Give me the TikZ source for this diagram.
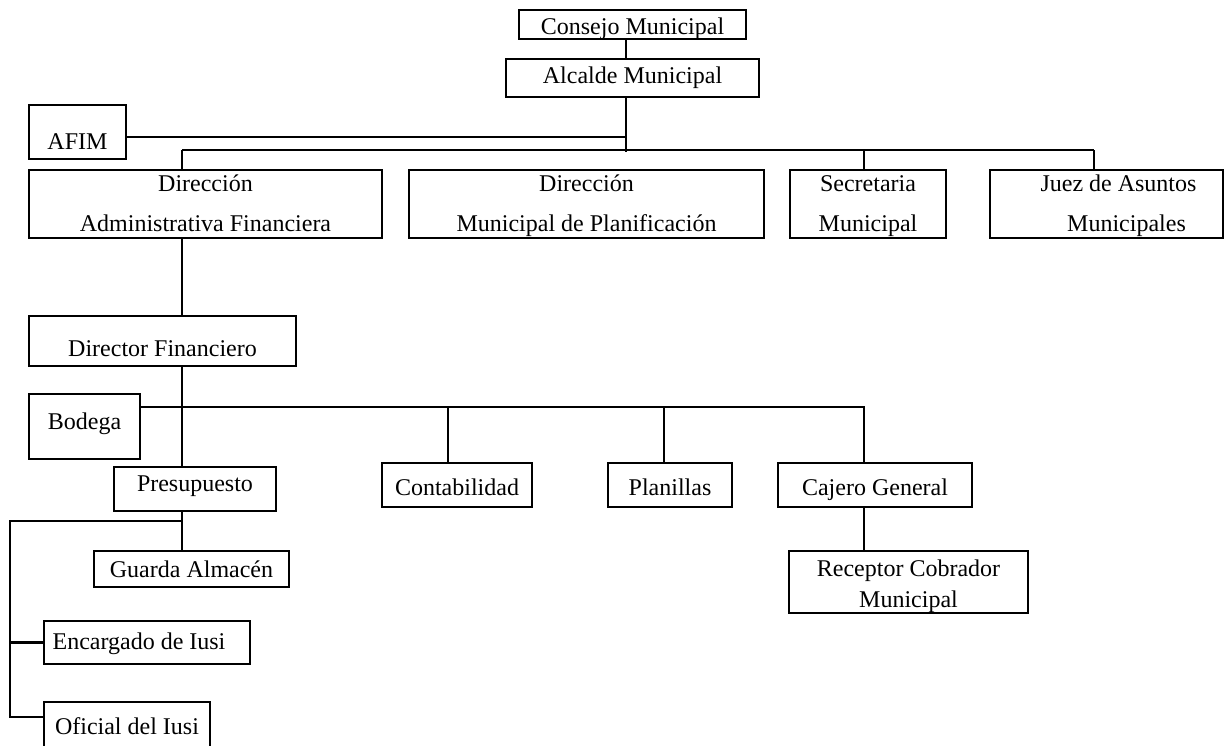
\documentclass[tikz,border=0pt]{standalone}
\usepackage{fontspec}
\setmainfont{Liberation Serif}
\usepackage{tikz}

\begin{document}
\begin{tikzpicture}[x=0.5pt,y=-0.5pt,
  box/.style={draw, line width=1.1pt, inner sep=0pt, align=center,
    text height=8pt, text depth=2.6pt, font=\fontsize{12}{14}\selectfont},
  sz/.style 2 args={minimum width={#1*0.5pt}, minimum height={#2*0.5pt}},
  twoline/.style={text height=29.6pt, text depth=2.6pt},
  link/.style={line width=1.1pt}]
  \useasboundingbox (0,0) rectangle (1226,745);
  \node[box, sz={227}{29}, text height=10pt, text depth=0pt] (consejo) at (632.5,24.5) {Consejo Municipal};
  \node[box, sz={253}{38}] (alcalde) at (632.5,78) {Alcalde Municipal};
  \node[box, sz={97}{54}, text height=19.6pt] (afim) at (77.5,132) {AFIM};
  \node[box, sz={353}{68}, twoline] (diradm) at (205.5,204)
    {Dirección\\[6pt]Administrativa Financiera};
  \node[box, sz={355}{68}, twoline] (dirplan) at (586.5,204)
    {Dirección\\[6pt]Municipal de Planificación};
  \node[box, sz={156}{68}, twoline] (secre) at (868,204)
    {Secretaria\\[6pt]Municipal};
  \node[box, sz={233}{68}, twoline] (juez) at (1106.5,204)
    {\hspace*{12pt}Juez de Asuntos\\[6pt]\hspace*{20pt}Municipales};
  \node[box, sz={267}{50}, text height=17.6pt] (dirfin) at (162.5,341) {Director Financiero};
  \node[box, sz={111}{65}, text depth=5pt] (bodega) at (84.5,426.5) {Bodega};
  \node[box, sz={162}{44}, text depth=6pt] (presup) at (195,489) {Presupuesto};
  \node[box, sz={150}{44}, text height=12.6pt] (conta) at (457,485) {Contabilidad};
  \node[box, sz={124}{44}, text height=12.6pt] (planillas) at (670,485) {Planillas};
  \node[box, sz={194}{44}, text height=12.6pt] (cajero) at (875,485) {Cajero General};
  \node[box, sz={239}{62}, text height=28.4pt, text depth=2.6pt] (receptor) at (908.5,582)
    {Receptor Cobrador\\[1.75pt]Municipal};
  \node[box, sz={195}{36}, text height=10.6pt] (guarda) at (191.5,569) {Guarda Almacén};
  \node[box, sz={206}{43}, text height=9.1pt] (encargado) at (147,642.5) {Encargado de Iusi\hspace*{8pt}};
  \node[box, sz={166}{46}, text height=11.6pt] (oficial) at (127,725) {Oficial del Iusi};

  \coordinate (a1) at (626,137);
  \coordinate (a2) at (626,152);
  \coordinate (b1) at (182,150);
  \coordinate (b2) at (1094,150);
  \coordinate (b3) at (864,150);
  \coordinate (c1) at (864,407);
  \coordinate (c2) at (448,407);
  \coordinate (c3) at (664,407);
  \coordinate (d1) at (182,521);
  \coordinate (d2) at (10,521);
  \coordinate (d3) at (10,717);

  \draw[link] (consejo.south -| a1) -- (alcalde.north -| a1);
  \draw[link] (alcalde.south -| a1) -- (a2);
  \draw[link] (afim.east |- a1) -- (a1);
  \draw[link] (b1) -- (b2);
  \draw[link] (b1) -- (b1 |- diradm.north);
  \draw[link] (b3) -- (b3 |- secre.north);
  \draw[link] (b2) -- (b2 |- juez.north);
  \draw[link] (b1 |- diradm.south) -- (b1 |- dirfin.north);
  \draw[link] (b1 |- dirfin.south) -- (b1 |- presup.north);
  \draw[link] (bodega.east |- c1) -- (c1) -- (c1 |- cajero.north);
  \draw[link] (c2) -- (c2 |- conta.north);
  \draw[link] (c3) -- (c3 |- planillas.north);
  \draw[link] (cajero.south -| c1) -- (receptor.north -| c1);
  \draw[link] (b1 |- presup.south) -- (b1 |- guarda.north);
  \draw[link] (d1) -- (d2) -- (d3) -- (oficial.west |- d3);
  \draw[link] (d2 |- encargado.west) -- (encargado.west);
\end{tikzpicture}
\end{document}
